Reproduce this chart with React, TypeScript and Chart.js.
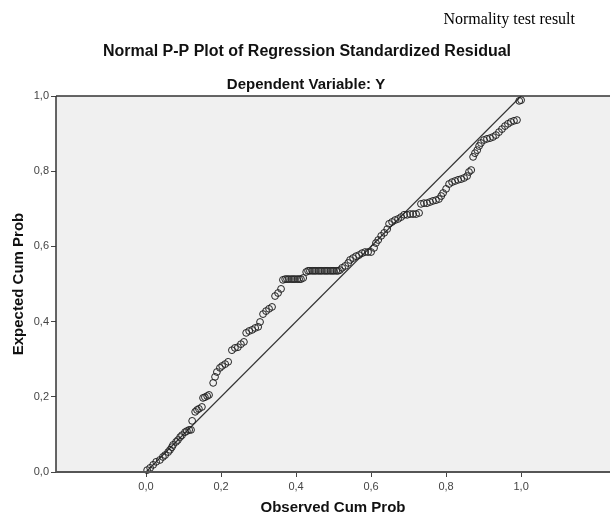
import React, { useEffect, useRef } from 'react';
import { Chart, registerables } from 'chart.js';

Chart.register(...registerables);

const observedCumProb = [
  0.003, 0.011, 0.019, 0.027, 0.037, 0.045, 0.051, 0.059, 0.064, 0.069,
  0.072, 0.080, 0.085, 0.091, 0.096, 0.104, 0.109, 0.115, 0.120, 0.123,
  0.131, 0.136, 0.141, 0.149, 0.152, 0.157, 0.163, 0.168, 0.179, 0.184,
  0.189, 0.197, 0.203, 0.211, 0.219, 0.229, 0.237, 0.245, 0.253, 0.261,
  0.267, 0.275, 0.283, 0.291, 0.299, 0.304, 0.312, 0.320, 0.328, 0.336,
  0.344, 0.352, 0.360, 0.365, 0.371, 0.376, 0.381, 0.387, 0.392, 0.397,
  0.403, 0.408, 0.413, 0.419, 0.427, 0.432, 0.437, 0.443, 0.448, 0.453,
  0.459, 0.464, 0.469, 0.475, 0.480, 0.485, 0.491, 0.496, 0.501, 0.507,
  0.512, 0.517, 0.523, 0.531, 0.539, 0.544, 0.552, 0.560, 0.568, 0.576,
  0.584, 0.592, 0.600, 0.608, 0.613, 0.619, 0.627, 0.635, 0.643, 0.648,
  0.656, 0.664, 0.672, 0.680, 0.688, 0.696, 0.704, 0.712, 0.720, 0.728,
  0.733, 0.741, 0.749, 0.757, 0.765, 0.773, 0.781, 0.787, 0.792, 0.800,
  0.808, 0.816, 0.824, 0.832, 0.840, 0.848, 0.856, 0.861, 0.867, 0.872,
  0.877, 0.883, 0.888, 0.893, 0.901, 0.909, 0.917, 0.925, 0.933, 0.941,
  0.949, 0.957, 0.965, 0.973, 0.981, 0.989, 0.995, 1.000,
];

const expectedCumProb = [
  0.005, 0.011, 0.019, 0.027, 0.032, 0.040, 0.045, 0.053, 0.059, 0.066,
  0.072, 0.080, 0.085, 0.093, 0.098, 0.106, 0.109, 0.112, 0.112, 0.136,
  0.160, 0.165, 0.168, 0.173, 0.197, 0.199, 0.202, 0.205, 0.237, 0.253,
  0.266, 0.277, 0.282, 0.287, 0.293, 0.324, 0.330, 0.332, 0.340, 0.346,
  0.370, 0.375, 0.378, 0.383, 0.386, 0.399, 0.420, 0.428, 0.434, 0.439,
  0.468, 0.476, 0.487, 0.511, 0.513, 0.513, 0.513, 0.513, 0.513, 0.513,
  0.513, 0.513, 0.513, 0.516, 0.532, 0.535, 0.535, 0.535, 0.535, 0.535,
  0.535, 0.535, 0.535, 0.535, 0.535, 0.535, 0.535, 0.535, 0.535, 0.535,
  0.535, 0.537, 0.543, 0.548, 0.556, 0.564, 0.569, 0.574, 0.577, 0.582,
  0.585, 0.585, 0.585, 0.596, 0.609, 0.617, 0.628, 0.636, 0.646, 0.660,
  0.665, 0.670, 0.673, 0.678, 0.684, 0.684, 0.686, 0.686, 0.686, 0.689,
  0.713, 0.715, 0.715, 0.718, 0.721, 0.723, 0.726, 0.734, 0.742, 0.753,
  0.766, 0.771, 0.774, 0.777, 0.779, 0.782, 0.787, 0.798, 0.803, 0.838,
  0.848, 0.856, 0.867, 0.875, 0.883, 0.886, 0.888, 0.891, 0.896, 0.904,
  0.912, 0.920, 0.926, 0.931, 0.934, 0.936, 0.987, 0.989,
];

const refLineX = [0, 1];
const refLineY = [0, 1];

const tickValues = [0, 0.2, 0.4, 0.6, 0.8, 1.0];
const tickLabels = ['0,0', '0,2', '0,4', '0,6', '0,8', '1,0'];

const captionText = 'Normality test result';
const chartTitle = 'Normal P-P Plot of Regression Standardized Residual';
const chartSubtitle = 'Dependent Variable: Y';
const xAxisTitle = 'Observed Cum Prob';
const yAxisTitle = 'Expected Cum Prob';

const SANS = '"Liberation Sans", Arial, sans-serif';
const SERIF = '"Liberation Serif", "Times New Roman", serif';

const decorPlugin = {
  id: 'decor',
  beforeDatasetsDraw(chart: any) {
    const { ctx, chartArea } = chart;
    ctx.save();
    ctx.fillStyle = '#f0f0f0';
    ctx.fillRect(chartArea.left, chartArea.top, chartArea.right - chartArea.left, chartArea.bottom - chartArea.top);
    ctx.restore();
  },
  afterDraw(chart: any) {
    const { ctx, chartArea } = chart;
    ctx.save();
    ctx.strokeStyle = '#333';
    ctx.lineWidth = 1.5;
    ctx.beginPath();
    ctx.moveTo(chartArea.left, chartArea.top);
    ctx.lineTo(chartArea.right, chartArea.top);
    ctx.stroke();
    ctx.beginPath();
    ctx.moveTo(chartArea.left, chartArea.top);
    ctx.lineTo(chartArea.left, chartArea.bottom);
    ctx.stroke();
    ctx.strokeStyle = '#555';
    ctx.lineWidth = 2;
    ctx.beginPath();
    ctx.moveTo(chartArea.left, chartArea.bottom);
    ctx.lineTo(chartArea.right, chartArea.bottom);
    ctx.stroke();

    ctx.fillStyle = '#000';
    ctx.textBaseline = 'middle';
    ctx.font = `16px ${SERIF}`;
    ctx.textAlign = 'right';
    ctx.fillText(captionText, 575, 20);

    ctx.fillStyle = '#111';
    ctx.textAlign = 'center';
    ctx.font = `bold 16px ${SANS}`;
    ctx.fillText(chartTitle, 307, 52);
    ctx.font = `bold 15px ${SANS}`;
    ctx.fillText(chartSubtitle, 306, 85);
    ctx.restore();
  },
};

export default function App() {
  const canvasRef = useRef<HTMLCanvasElement | null>(null);

  useEffect(() => {
    const canvas = canvasRef.current;
    if (!canvas) return;
    const points = observedCumProb.map((x, i) => ({ x, y: expectedCumProb[i] }));
    const line = refLineX.map((x, i) => ({ x, y: refLineY[i] }));

    const chart = new Chart(canvas, {
      type: 'scatter',
      data: {
        datasets: [
          {
            label: 'line',
            data: line,
            showLine: true,
            borderColor: '#333',
            borderWidth: 1.2,
            pointRadius: 0,
            pointHoverRadius: 0,
            order: 2,
          },
          {
            label: 'residuals',
            data: points,
            pointStyle: 'circle',
            pointRadius: 3.4,
            borderColor: '#222',
            borderWidth: 1,
            backgroundColor: 'rgba(0,0,0,0)',
            clip: false,
            order: 1,
          } as any,
        ],
      },
      options: {
        animation: false,
        responsive: false,
        devicePixelRatio: 1,
        layout: { autoPadding: false, padding: { top: 96, right: 0, left: 0, bottom: 0 } },
        plugins: {
          legend: { display: false },
          tooltip: { enabled: false },
          title: { display: false },
        },
        scales: {
          x: {
            type: 'linear',
            min: -0.24,
            max: 1.237,
            afterBuildTicks: (scale: any) => {
              scale.ticks = tickValues.map((v) => ({ value: v }));
            },
            afterFit: (scale: any) => {
              scale.height = 45;
              scale.paddingLeft = 0;
              scale.paddingRight = 0;
            },
            ticks: {
              callback: (value: any) => tickLabels[tickValues.indexOf(value)] ?? '',
              font: { family: SANS, size: 11 },
              color: '#444',
              padding: 3,
              maxRotation: 0,
              autoSkip: false,
            },
            grid: {
              display: true,
              drawOnChartArea: false,
              drawTicks: true,
              tickLength: 5,
              color: '#444',
              lineWidth: 1,
            },
            border: { display: false },
            title: {
              display: true,
              text: xAxisTitle,
              font: { family: SANS, size: 15, weight: 'bold' },
              color: '#111',
              padding: { top: 0, bottom: 0 },
            },
          },
          y: {
            type: 'linear',
            min: 0,
            max: 1,
            afterBuildTicks: (scale: any) => {
              scale.ticks = tickValues.map((v) => ({ value: v }));
            },
            afterFit: (scale: any) => {
              scale.width = 56;
              scale.paddingTop = 0;
              scale.paddingBottom = 0;
            },
            ticks: {
              callback: (value: any) => tickLabels[tickValues.indexOf(value)] ?? '',
              font: { family: SANS, size: 11 },
              color: '#444',
              padding: 2,
              autoSkip: false,
            },
            grid: {
              display: true,
              drawOnChartArea: false,
              drawTicks: true,
              tickLength: 5,
              color: '#444',
              lineWidth: 1,
            },
            border: { display: false },
            title: {
              display: true,
              text: yAxisTitle,
              font: { family: SANS, size: 15, weight: 'bold' },
              color: '#111',
              padding: { top: 10, bottom: 0 },
            },
          },
        },
      },
      plugins: [decorPlugin],
    });

    return () => chart.destroy();
  }, []);

  return (
    <div style={{ position: 'absolute', left: 0, top: 0, width: 610, height: 517, background: '#fff' }}>
      <canvas ref={canvasRef} width={610} height={517} style={{ display: 'block', width: 610, height: 517 }} />
    </div>
  );
}
